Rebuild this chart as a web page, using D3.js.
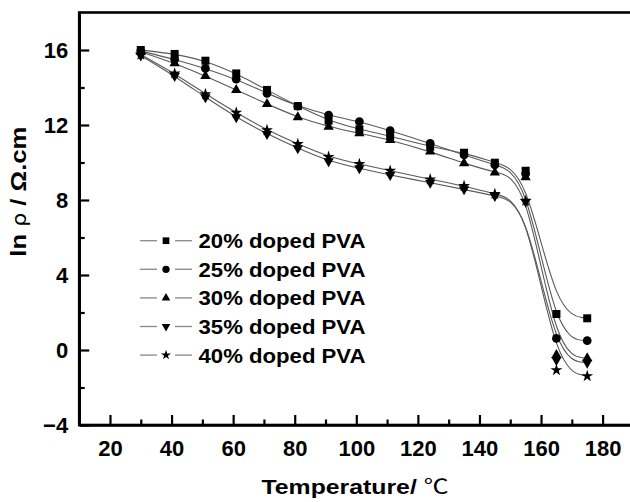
<!DOCTYPE html>
<html>
<head>
<meta charset="utf-8">
<script src="https://cdn.jsdelivr.net/npm/d3@7"></script>
<style>
  body { margin: 0; background: #fff; }
  svg { display: block; font-family: "Liberation Sans", Arial, sans-serif; }
</style>
</head>
<body>
<svg id="chart" width="630" height="502"></svg>
<script>
// temperature points (deg C)
var temps = [30, 41, 51, 61, 71, 81, 91, 101, 111, 124, 135, 145, 155, 165, 175];

// ln(rho) for each doping level
var pva20 = [16.0, 15.79, 15.43, 14.75, 13.87, 13.01, 12.23, 11.77, 11.41, 10.84, 10.52, 9.99, 9.56, 1.92, 1.69];
var pva25 = [15.95, 15.5, 15.02, 14.44, 13.69, 13.0, 12.53, 12.18, 11.7, 11.02, 10.4, 9.87, 9.4, 0.62, 0.5];
var pva30 = [15.9, 15.29, 14.61, 13.87, 13.12, 12.41, 11.91, 11.56, 11.2, 10.58, 9.96, 9.46, 9.21, -0.27, -0.44];
var pva35 = [15.7, 14.61, 13.48, 12.41, 11.52, 10.76, 10.07, 9.69, 9.33, 8.92, 8.57, 8.21, 7.91, -0.53, -0.68];
var pva40 = [15.75, 14.75, 13.65, 12.66, 11.73, 10.99, 10.3, 9.92, 9.56, 9.1, 8.75, 8.32, 7.95, -1.07, -1.39];

var seriesNames = ["20% doped PVA", "25% doped PVA", "30% doped PVA", "35% doped PVA", "40% doped PVA"];
var seriesValues = [pva20, pva25, pva30, pva35, pva40];
var seriesSymbols = ["square", "circle", "up", "down", "star"];

var xMajor = [20, 40, 60, 80, 100, 120, 140, 160, 180];
var xMinor = [30, 50, 70, 90, 110, 130, 150, 170];
var yMajor = [-4, 0, 4, 8, 12, 16];
var yMinor = [-2, 2, 6, 10, 14];

var svg = d3.select("#chart");

var x = d3.scaleLinear().domain([10, 190]).range([79.2, 633.4]);
var y = d3.scaleLinear().domain([-4, 18]).range([425, 12.5]);

// symbol path generator
function symbolPath(kind, big) {
  var s = big ? 1 : 0.7;
  if (kind == "square") return d3.symbol().type(d3.symbolSquare).size(64 * s)();
  if (kind == "circle") return d3.symbol().type(d3.symbolCircle).size(60 * s)();
  if (kind == "up" || kind == "down") return d3.symbol().type(d3.symbolTriangle).size(46 * s)();
  return d3.symbol().type(d3.symbolStar).size(44 * s)();
}

// frame (top and right edges)
svg.append("rect")
  .attr("x", x(10)).attr("y", y(18))
  .attr("width", x(190) - x(10)).attr("height", y(-4) - y(18))
  .attr("fill", "none").attr("stroke", "#000").attr("stroke-width", 2.6);

// curves
var line = d3.line()
  .x(function(d, i){ return x(temps[i]); })
  .y(function(d){ return y(d); })
  .curve(d3.curveBasis);

var plot = svg.append("g").attr("id", "series");

seriesValues.forEach(function(vals, k){
  plot.append("path")
    .attr("d", line(vals))
    .attr("fill", "none")
    .attr("stroke", "#5a5a5a")
    .attr("stroke-width", 1.1);
});

seriesValues.forEach(function(vals, k){
  var kind = seriesSymbols[k];
  plot.append("g").selectAll("path")
    .data(vals)
   .enter().append("path")
    .attr("d", symbolPath(kind, true))
    .attr("fill", "#000")
    .attr("transform", function(d, i){
      return "translate(" + x(temps[i]) + "," + y(d) + ")" + (kind == "down" ? " rotate(180)" : "");
    });
});

// axes
var yAxis = svg.append("g")
  .attr("transform", "translate(" + x(10) + ",0)")
  .call(d3.axisLeft(y).tickValues(yMajor).tickSize(-10).tickSizeOuter(0).tickPadding(11));
svg.append("g")
  .attr("transform", "translate(" + x(10) + ",0)")
  .call(d3.axisLeft(y).tickValues(yMinor).tickSize(-5.5).tickSizeOuter(0).tickFormat(""))
  .select(".domain").remove();

var xAxis = svg.append("g")
  .attr("transform", "translate(0," + y(-4) + ")")
  .call(d3.axisBottom(x).tickValues(xMajor).tickSize(-10).tickSizeOuter(0).tickPadding(15));
svg.append("g")
  .attr("transform", "translate(0," + y(-4) + ")")
  .call(d3.axisBottom(x).tickValues(xMinor).tickSize(-5.5).tickSizeOuter(0).tickFormat(""))
  .select(".domain").remove();

svg.selectAll(".domain").attr("stroke", "#000").attr("stroke-width", 2.6);
svg.selectAll(".tick line").attr("stroke", "#000").attr("stroke-width", 2.2);
svg.selectAll(".tick text")
  .attr("fill", "#000")
  .style("font-family", "'Liberation Sans', Arial, sans-serif")
  .style("font-size", "22px")
  .style("font-weight", "bold");

// axis titles
var yTitle = svg.append("text")
  .attr("transform", "translate(26,191.7) rotate(-90)")
  .attr("text-anchor", "middle")
  .attr("textLength", 130)
  .attr("lengthAdjust", "spacingAndGlyphs")
  .style("font-size", "22px")
  .style("font-weight", "bold");
yTitle.append("tspan").text("ln ");
yTitle.append("tspan").style("font-weight", "normal").style("font-family", "'DejaVu Sans', sans-serif").style("font-size", "19px").text("ρ");
yTitle.append("tspan").text(" / Ω.cm");

var xTitle = svg.append("text")
  .attr("x", 355).attr("y", 494)
  .attr("text-anchor", "middle")
  .attr("textLength", 187)
  .attr("lengthAdjust", "spacingAndGlyphs")
  .style("font-size", "20px")
  .style("font-weight", "bold");
xTitle.append("tspan").text("Temperature/ ");
xTitle.append("tspan").style("font-weight", "normal").style("font-family", "'Noto Sans CJK SC', sans-serif").text("℃");

// legend
var legend = svg.append("g").attr("id", "legend");
seriesNames.forEach(function(name, k){
  var cy = 240.7 + k * 28.6;
  var row = legend.append("g");
  row.append("line").attr("x1", 140).attr("x2", 157).attr("y1", cy).attr("y2", cy)
    .attr("stroke", "#888").attr("stroke-width", 1.3);
  row.append("line").attr("x1", 175).attr("x2", 192).attr("y1", cy).attr("y2", cy)
    .attr("stroke", "#888").attr("stroke-width", 1.3);
  row.append("path")
    .attr("d", symbolPath(seriesSymbols[k], false))
    .attr("transform", "translate(166," + cy + ")" + (seriesSymbols[k] == "down" ? " rotate(180)" : ""))
    .attr("fill", "#000");
  row.append("text")
    .attr("x", 198.5).attr("y", cy + 7.4)
    .attr("textLength", 167)
    .attr("lengthAdjust", "spacingAndGlyphs")
    .style("font-size", "20.5px")
    .style("font-weight", "bold")
    .text(name);
});
</script>
</body>
</html>
